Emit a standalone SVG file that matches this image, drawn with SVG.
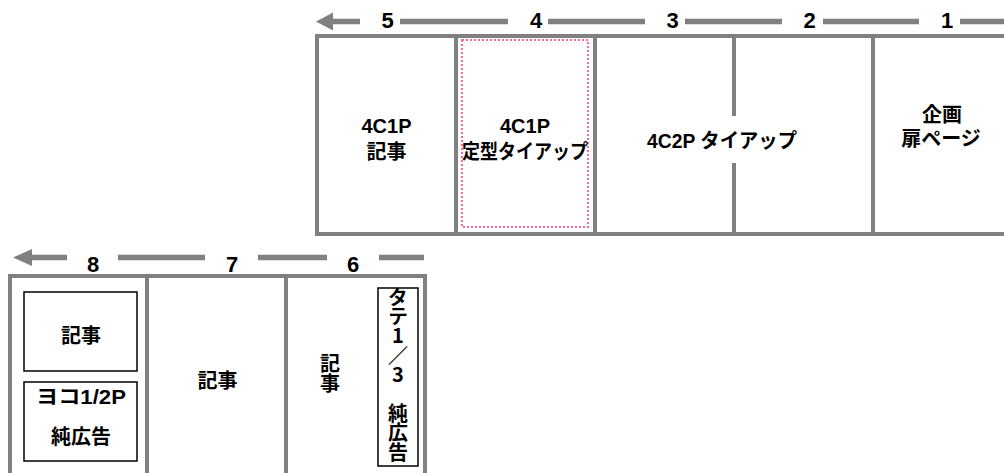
<svg xmlns="http://www.w3.org/2000/svg" width="1004" height="473" viewBox="0 0 1004 473">
<style>
.frame{stroke:#808080;stroke-width:4;fill:none}
.rule{stroke:#808080;stroke-width:5.5;fill:none}
.head{fill:#808080}
.num{font-family:"Liberation Sans",Arial,sans-serif;font-weight:bold;font-size:22px;fill:#000;text-anchor:middle}
.lbl{font-family:"Liberation Sans","Noto Sans CJK JP",sans-serif;font-weight:bold;font-size:20px;fill:#000;text-anchor:middle}
.vert{font-family:"Noto Sans CJK JP",sans-serif;font-weight:bold;font-size:20px;fill:#000;writing-mode:vertical-rl;text-orientation:upright}
.box{fill:none;stroke:#000;stroke-width:1.5}
.pink{fill:none;stroke:#ff6699;stroke-width:2;stroke-dasharray:2 2}
</style>
<rect width="1004" height="473" fill="#fff"/>
<g id="connectors">
  <polygon class="head" points="316,21.5 333,12.5 333,30.5"/>
  <line class="rule" x1="332" y1="21.5" x2="360" y2="21.5"/>
  <line class="rule" x1="400" y1="21.5" x2="508" y2="21.5"/>
  <line class="rule" x1="548" y1="21.5" x2="645" y2="21.5"/>
  <line class="rule" x1="685" y1="21.5" x2="782" y2="21.5"/>
  <line class="rule" x1="823" y1="21.5" x2="919" y2="21.5"/>
  <line class="rule" x1="960" y1="21.5" x2="1004" y2="21.5"/>
  <polygon class="head" points="13,257.5 32,249 32,266"/>
  <line class="rule" x1="31" y1="257.5" x2="67" y2="257.5"/>
  <line class="rule" x1="118" y1="257.5" x2="205" y2="257.5"/>
  <line class="rule" x1="258" y1="257.5" x2="327" y2="257.5"/>
  <line class="rule" x1="379" y1="257.5" x2="424" y2="257.5"/>
</g>
<g id="page-numbers">
  <text class="num" x="387.5" y="28">5</text>
  <text class="num" x="536" y="28">4</text>
  <text class="num" x="672.5" y="28">3</text>
  <text class="num" x="809.5" y="28">2</text>
  <text class="num" x="947" y="28">1</text>
  <text class="num" x="93" y="272">8</text>
  <text class="num" x="232" y="272">7</text>
  <text class="num" x="353" y="272">6</text>
</g>
<g id="frame-top">
  <polyline class="frame" points="1004,36 317,36 317,234 1004,234"/>
  <line class="frame" x1="456" y1="36" x2="456" y2="234"/>
  <line class="frame" x1="595" y1="36" x2="595" y2="234"/>
  <line class="frame" x1="734" y1="36" x2="734" y2="116"/>
  <line class="frame" x1="734" y1="163" x2="734" y2="234"/>
  <line class="frame" x1="873" y1="36" x2="873" y2="234"/>
</g>
<g id="frame-bottom">
  <polyline class="frame" points="10,473 10,276 425,276 425,473"/>
  <line class="frame" x1="147" y1="276" x2="147" y2="473"/>
  <line class="frame" x1="286" y1="276" x2="286" y2="473"/>
</g>
<g id="page5">
  <text class="lbl" x="386.5" y="133">4C1P</text>
  <text class="lbl" x="386.5" y="159">記事</text>
</g>
<g id="page4">
  <rect class="pink" x="462" y="40" width="126" height="187"/>
  <text class="lbl" x="525" y="133">4C1P</text>
  <text class="lbl" x="525" y="159" textLength="126" lengthAdjust="spacingAndGlyphs">定型タイアップ</text>
</g>
<g id="page3-2">
  <text class="lbl" x="722" y="148" textLength="150" lengthAdjust="spacingAndGlyphs">4C2P タイアップ</text>
</g>
<g id="page1">
  <text class="lbl" x="942" y="122">企画</text>
  <text class="lbl" x="941" y="146">扉ページ</text>
</g>
<g id="page8-article">
  <rect class="box" x="24" y="292" width="113" height="79"/>
  <text class="lbl" x="81" y="343">記事</text>
</g>
<g id="page8-ad">
  <rect class="box" x="24" y="382" width="113" height="79"/>
  <text class="lbl" x="81" y="404" textLength="90" lengthAdjust="spacingAndGlyphs">ヨコ1/2P</text>
  <text class="lbl" x="81" y="444">純広告</text>
</g>
<g id="page7">
  <text class="lbl" x="217.5" y="388">記事</text>
</g>
<g id="page6-article">
  <text class="vert" x="330" y="353">記事</text>
</g>
<g id="page6-ad">
  <clipPath id="tateclip"><rect x="378" y="288" width="40" height="178"/></clipPath>
  <rect class="box" x="378" y="288" width="40" height="178"/>
  <text class="vert" x="398" y="287" letter-spacing="-0.6" clip-path="url(#tateclip)">タテ1／3　純広告</text>
</g>
</svg>
